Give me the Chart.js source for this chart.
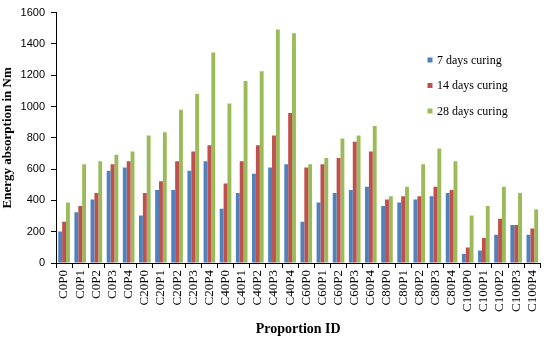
<!DOCTYPE html>
<html>
<head>
<meta charset="utf-8">
<script src="https://cdn.jsdelivr.net/npm/chart.js@4/dist/chart.umd.min.js"></script>
<style>
html,body{margin:0;padding:0;background:#fff;}
#wrap{width:550px;height:340px;position:relative;}
</style>
</head>
<body>
<div id="wrap"><canvas id="c" width="550" height="340"></canvas></div>
<script>
const categories = ["C0P0","C0P1","C0P2","C0P3","C0P4","C20P0","C20P1","C20P2","C20P3","C20P4","C40P0","C40P1","C40P2","C40P3","C40P4","C60P0","C60P1","C60P2","C60P3","C60P4","C80P0","C80P1","C80P2","C80P3","C80P4","C100P0","C100P1","C100P2","C100P3","C100P4"];
const seriesNames = ["7 days curing","14 days curing","28 days curing"];
const days7  = [202,325,405,589,610, 304,466,466,589,650, 346,447,570,610,631, 264,386,447,466,487, 365,386,405,426,447, 57,80,181,243,181];
const days14 = [264,365,447,631,650, 447,523,650,713,753, 508,650,753,814,958, 610,631,671,774,713, 405,426,426,487,466, 99,160,283,243,221];
const days28 = [386,631,650,692,713, 814,835,979,1080,1345, 1019,1163,1226,1492,1468, 631,671,795,814,875, 426,487,631,732,650, 304,365,487,447,344];
const yTicks = [0,200,400,600,800,1000,1200,1400,1600];
const colors = ["#4F81BD","#C0504D","#9BBB59"];

const legendPlugin = {
  id: 'insideLegend',
  afterDraw(chart) {
    const ctx = chart.ctx;
    ctx.save();
    ctx.font = '12px "Liberation Serif", "Times New Roman", serif';
    ctx.textBaseline = 'middle';
    ctx.textAlign = 'left';
    const ys = [60, 85.5, 111];
    chart.data.datasets.forEach((ds, i) => {
      ctx.fillStyle = ds.backgroundColor;
      ctx.fillRect(427.5, ys[i] - 2.5, 5, 5);
      ctx.fillStyle = '#000';
      ctx.fillText(ds.label, 437, ys[i] + 0.5);
    });
    ctx.restore();
  }
};

new Chart(document.getElementById('c'), {
  type: 'bar',
  data: {
    labels: categories,
    datasets: [
      {label: seriesNames[0], data: days7, backgroundColor: colors[0]},
      {label: seriesNames[1], data: days14, backgroundColor: colors[1]},
      {label: seriesNames[2], data: days28, backgroundColor: colors[2]}
    ]
  },
  options: {
    responsive: false,
    animation: false,
    devicePixelRatio: 1,
    layout: {padding: {top: 10, right: 5, left: 0, bottom: 0}},
    datasets: {bar: {categoryPercentage: 0.72, barPercentage: 1.0, borderWidth: 0}},
    plugins: {legend: {display: false}, tooltip: {enabled: false}},
    scales: {
      x: {
        grid: {display: true, drawOnChartArea: false, offset: true, tickLength: 5, color: '#000'},
        border: {display: true, color: '#000', width: 1},
        ticks: {
          autoSkip: false, maxRotation: 90, minRotation: 90, padding: 2,
          color: '#000',
          font: {family: '"Liberation Serif", "Times New Roman", serif', size: 13}
        },
        title: {
          display: true, text: 'Proportion ID', color: '#000',
          font: {family: '"Liberation Serif", "Times New Roman", serif', size: 14, weight: 'bold'},
          padding: {top: 0, bottom: 2}
        },
        afterFit(scale) { scale.height = 77; }
      },
      y: {
        min: 0, max: 1600,
        afterBuildTicks(scale) { scale.ticks = yTicks.map(v => ({value: v})); },
        grid: {display: true, drawOnChartArea: false, tickLength: 5, color: '#000'},
        border: {display: true, color: '#000', width: 1},
        ticks: {
          padding: 6, color: '#000',
          callback: (v) => String(v),
          font: {family: '"Liberation Sans", Arial, sans-serif', size: 11}
        },
        title: {
          display: true, text: 'Energy absorption in Nm', color: '#000',
          font: {family: '"Liberation Serif", "Times New Roman", serif', size: 13, weight: 'bold'},
          padding: {top: 0, bottom: 0}
        },
        afterFit(scale) { scale.width = 56; }
      }
    }
  },
  plugins: [legendPlugin]
});
</script>
</body>
</html>
